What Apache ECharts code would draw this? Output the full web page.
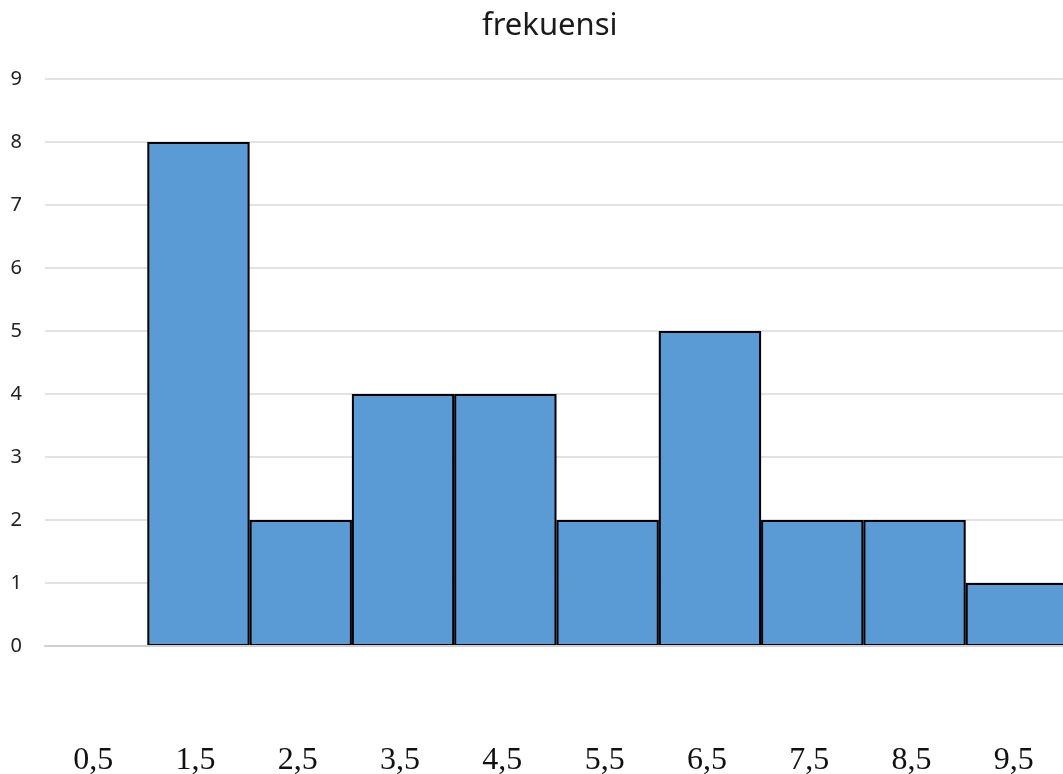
<!DOCTYPE html>
<html>
<head>
<meta charset="utf-8">
<script src="https://cdn.jsdelivr.net/npm/echarts@6/dist/echarts.min.js"></script>
<style>html,body{margin:0;padding:0;background:#fff}#c{width:1063px;height:774px}</style>
</head>
<body>
<div id="c"></div>
<script>
const categories = ['0,5','1,5','2,5','3,5','4,5','5,5','6,5','7,5','8,5','9,5'];
const frekuensi = [null, 8, 2, 4, 4, 2, 5, 2, 2, 1];
const yTicks = {min: 0, max: 9, interval: 1};

const chart = echarts.init(document.getElementById('c'), null, {renderer: 'canvas'});
chart.setOption({
  animation: false,
  backgroundColor: '#fff',
  title: {
    text: 'frekuensi',
    left: 477, top: 6,
    textStyle: {fontFamily: 'Noto Sans', fontSize: 31, fontWeight: 'normal', color: '#1a1a1a'}
  },
  grid: {left: 45, width: 1023, top: 79, height: 567, containLabel: false, outerBoundsMode: 'none'},
  xAxis: {
    type: 'category',
    data: categories,
    z: 10,
    axisLine: {show: true, lineStyle: {color: '#d0d0d0', width: 2}},
    axisTick: {show: false},
    axisLabel: {margin: 99, fontFamily: 'Liberation Serif', fontSize: 32, color: '#111', padding: [0, 6, 0, 0]},
    splitLine: {show: false}
  },
  yAxis: {
    type: 'value',
    min: yTicks.min, max: yTicks.max, interval: yTicks.interval,
    axisLine: {show: false},
    axisTick: {show: false},
    axisLabel: {margin: 23, fontFamily: 'Noto Sans', fontSize: 20, color: '#222'},
    splitLine: {lineStyle: {color: '#d9d9d9', width: 1.5}}
  },
  series: [{
    type: 'bar',
    data: frekuensi,
    barCategoryGap: '0%',
    itemStyle: {color: '#5B9BD5', borderColor: '#000', borderWidth: 2}
  }]
});
</script>
</body>
</html>
